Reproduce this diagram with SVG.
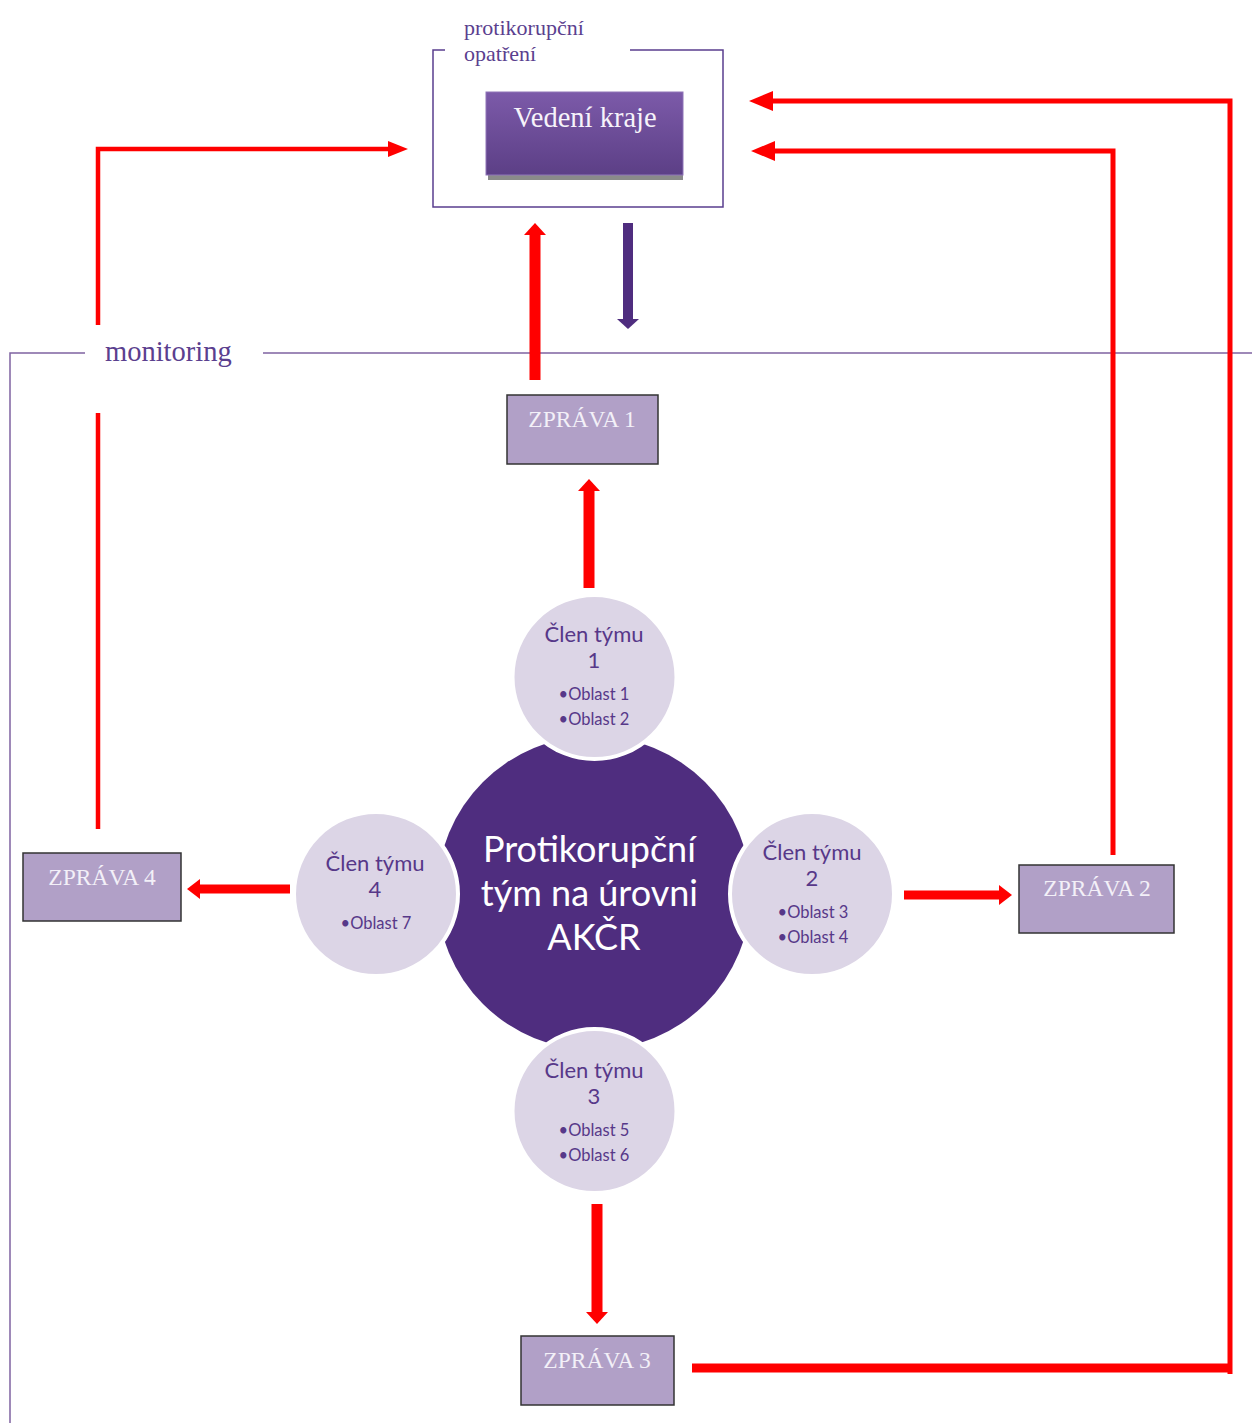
<svg xmlns="http://www.w3.org/2000/svg" width="1252" height="1423" viewBox="0 0 1252 1423">
<style>
.serif{font-family:"Liberation Serif","DejaVu Serif",serif}
.sans{font-family:Lato,"Liberation Sans","DejaVu Sans",sans-serif}
.lbl{fill:#5b3f8f}
.rep rect{fill:#b1a0c7;stroke:#333;stroke-width:1.5}
.rep text{fill:#f3f0f8;font-size:23.5px;text-anchor:middle}
.mem circle{fill:#dcd5e6;stroke:#fff;stroke-width:4}
.mem text{fill:#573889;text-anchor:middle}
.mem .t{font-size:22px}
.mem .o{font-size:16.5px}
.frame{fill:none;stroke:#7f63a1;stroke-width:1.5}
.red{fill:none;stroke:#ff0000}
</style>
<defs>
<linearGradient id="gV" x1="0" y1="0" x2="0" y2="1">
<stop offset="0" stop-color="#7c5aa9"/>
<stop offset="1" stop-color="#5c3f86"/>
</linearGradient>
<marker id="mT" markerUnits="userSpaceOnUse" markerWidth="13" markerHeight="22" refX="0" refY="11" orient="auto">
<path d="M0,0 L12,11 L0,22 z" fill="#ff0000"/>
</marker>
<marker id="mM" markerUnits="userSpaceOnUse" markerWidth="14" markerHeight="20" refX="0" refY="10" orient="auto">
<path d="M0,0 L13,10 L0,20 z" fill="#ff0000"/>
</marker>
<marker id="mL" markerUnits="userSpaceOnUse" markerWidth="25" markerHeight="20" refX="0" refY="10" orient="auto">
<path d="M0,0 L24,10 L0,20 z" fill="#ff0000"/>
</marker>
<marker id="mS" markerUnits="userSpaceOnUse" markerWidth="21" markerHeight="16" refX="0" refY="8" orient="auto">
<path d="M0,0 L20,8 L0,16 z" fill="#ff0000"/>
</marker>
<marker id="mP" markerUnits="userSpaceOnUse" markerWidth="11" markerHeight="22" refX="0" refY="11" orient="auto">
<path d="M0,0 L10,11 L0,22 z" fill="#4f2d7f"/>
</marker>
</defs>
<rect width="1252" height="1423" fill="#fff"/>

<g id="frames">
<path class="frame" d="M85,353 H10 V1423 M263,353 H1252"/>
<text class="serif lbl" x="105" y="361" font-size="28.5">monitoring</text>
<path d="M445,50 H433 V207 H723 V50 H630" fill="none" stroke="#5a3e8e" stroke-width="1.5"/>
<text class="serif lbl" x="464" y="35" font-size="22">protikorupční</text>
<text class="serif lbl" x="464" y="61" font-size="22">opatření</text>
</g>

<g id="vedeni">
<rect x="488" y="96" width="195" height="84" fill="#8a8a8a"/>
<rect x="486" y="92" width="197" height="83" fill="url(#gV)" stroke="#8f74b8" stroke-width="1"/>
<text class="serif" x="585" y="127" font-size="28.5" fill="#f6f3fa" text-anchor="middle">Vedení kraje</text>
</g>

<g id="connectors">
<line class="red" x1="535" y1="380" x2="535" y2="235" stroke-width="11" marker-end="url(#mT)"/>
<line x1="628" y1="223" x2="628" y2="319" stroke="#4f2d7f" stroke-width="10" marker-end="url(#mP)"/>
<line class="red" x1="589" y1="588" x2="589" y2="491" stroke-width="11" marker-end="url(#mT)"/>
<line class="red" x1="290" y1="889" x2="200" y2="889" stroke-width="9" marker-end="url(#mM)"/>
<line class="red" x1="904" y1="895" x2="999" y2="895" stroke-width="9" marker-end="url(#mM)"/>
<line class="red" x1="597" y1="1204" x2="597" y2="1312" stroke-width="11" marker-end="url(#mT)"/>
<line class="red" x1="692" y1="1368" x2="1232" y2="1368" stroke-width="9"/>
<polyline class="red" points="1230,1374 1230,101 773,101" stroke-width="5" marker-end="url(#mL)"/>
<polyline class="red" points="1113,855 1113,151 775,151" stroke-width="5" marker-end="url(#mL)"/>
<line class="red" x1="98" y1="829" x2="98" y2="413" stroke-width="4.5"/>
<polyline class="red" points="98,325 98,149 388,149" stroke-width="4.5" marker-end="url(#mS)"/>
</g>

<g id="center">
<circle cx="594" cy="893" r="157" fill="#4f2d7f"/>
<text class="sans" font-size="36" fill="#fff" text-anchor="middle">
<tspan x="594" y="862">Protikorupční</tspan>
<tspan x="594" y="906">tým na úrovni</tspan>
<tspan x="594" y="950">AKČR</tspan>
</text>
</g>

<g id="clen1" class="mem sans">
<circle cx="594.5" cy="677" r="82"/>
<text class="t" x="594" y="642">Člen týmu</text>
<text class="t" x="594" y="668">1</text>
<text class="o" x="594" y="700">•Oblast 1</text>
<text class="o" x="594" y="725">•Oblast 2</text>
</g>

<g id="clen2" class="mem sans">
<circle cx="812" cy="894" r="82"/>
<text class="t" x="812" y="860">Člen týmu</text>
<text class="t" x="812" y="886">2</text>
<text class="o" x="813" y="918">•Oblast 3</text>
<text class="o" x="813" y="943">•Oblast 4</text>
</g>

<g id="clen3" class="mem sans">
<circle cx="594.5" cy="1111" r="82"/>
<text class="t" x="594" y="1078">Člen týmu</text>
<text class="t" x="594" y="1104">3</text>
<text class="o" x="594" y="1136">•Oblast 5</text>
<text class="o" x="594" y="1161">•Oblast 6</text>
</g>

<g id="clen4" class="mem sans">
<circle cx="376" cy="894" r="82"/>
<text class="t" x="375" y="871">Člen týmu</text>
<text class="t" x="375" y="897">4</text>
<text class="o" x="376" y="929">•Oblast 7</text>
</g>

<g id="zprava1" class="rep serif">
<rect x="507" y="395" width="151" height="69"/>
<text x="582" y="427">ZPRÁVA 1</text>
</g>
<g id="zprava2" class="rep serif">
<rect x="1019" y="865" width="155" height="68"/>
<text x="1097" y="896">ZPRÁVA 2</text>
</g>
<g id="zprava3" class="rep serif">
<rect x="521" y="1336" width="153" height="69"/>
<text x="597" y="1368">ZPRÁVA 3</text>
</g>
<g id="zprava4" class="rep serif">
<rect x="23" y="853" width="158" height="68"/>
<text x="102" y="885">ZPRÁVA 4</text>
</g>
</svg>
